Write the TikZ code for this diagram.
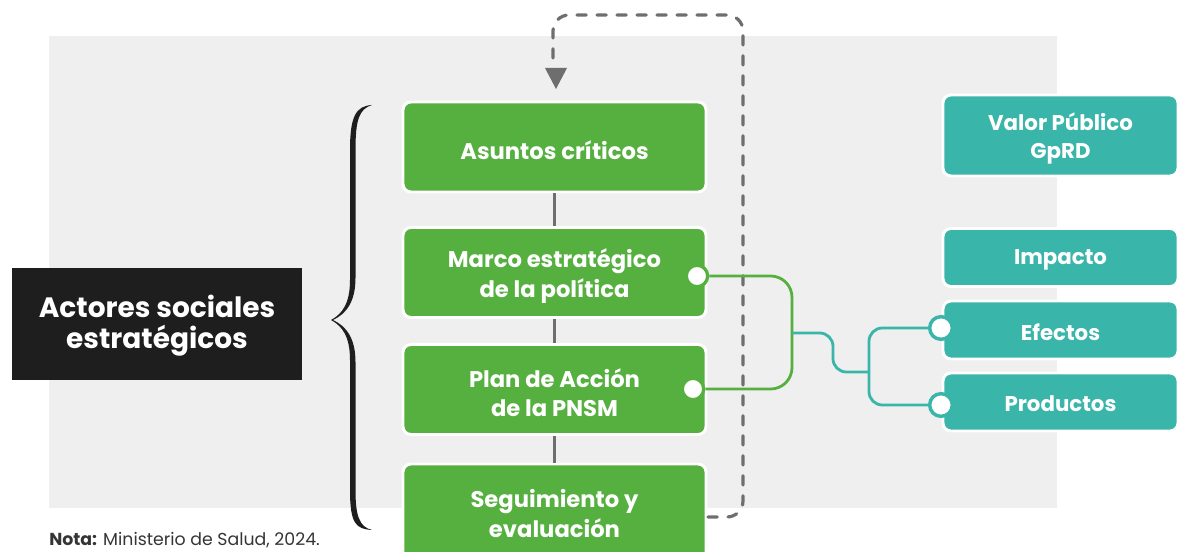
\documentclass[tikz,border=0pt]{standalone}
\usepackage{fontspec}
\setmainfont{Poppins}
\usetikzlibrary{arrows.meta}
\definecolor{bggray}{HTML}{EFEFEF}
\definecolor{grn}{HTML}{55B03F}
\definecolor{teal2}{HTML}{3AB5A9}
\definecolor{dgray}{HTML}{6E6E6E}
\definecolor{blk}{HTML}{1E1E1E}
\tikzset{
  greenbox/.style={draw=white, line width=2.2pt, fill=grn, rounded corners=6pt, minimum width=303*0.75pt, minimum height=90*0.75pt, inner sep=0pt},
  gtext/.style={text=white, font=\fontsize{17}{22}\selectfont\bfseries, align=center, inner sep=0pt},
  tealbox/.style={draw=white, line width=2.2pt, fill=teal2, rounded corners=6pt, minimum width=235*0.75pt, minimum height=58*0.75pt, inner sep=0pt},
  ttext/.style={text=white, font=\fontsize{16}{21}\selectfont\bfseries, align=center, inner sep=0pt},
  link/.style={draw=dgray, line width=2.2pt},
  dashlink/.style={draw=dgray, line width=2.4pt, line cap=round, dash pattern=on 7pt off 8pt, rounded corners=12pt},
  grnline/.style={draw=grn, line width=2.1pt, rounded corners=16pt},
  tealline/.style={draw=teal2, line width=2.1pt, rounded corners=10pt},
  gdot/.style={circle, draw=grn, fill=white, line width=2.4pt, minimum size=16pt, inner sep=0pt},
  tdot/.style={circle, draw=teal2, fill=white, line width=2.6pt, minimum size=17pt, inner sep=0pt},
}
\begin{document}
\begin{tikzpicture}[x=0.75pt, y=-0.75pt]
\useasboundingbox (0,0) rectangle (1183,552);
\clip (0,0) rectangle (1183,552);
\fill[bggray] (49,36) rectangle (1057,508);
% brace
\fill[blk] (372,105) .. controls (356,106) and (350,116) .. (350,150) -- (350,280) .. controls (350,304) and (342,314) .. (331,320) .. controls (342,326) and (350,336) .. (350,360) -- (350,490) .. controls (350,524) and (356,529) .. (372,530) .. controls (359,527) and (355.5,515) .. (355.5,490) -- (355.5,362) .. controls (355.5,338) and (346,326) .. (333,320) .. controls (346,314) and (355.5,302) .. (355.5,278) -- (355.5,150) .. controls (355.5,120) and (359,109) .. (372,105) -- cycle;
% green boxes
\node[greenbox] (a) at (554.5,147) {};
\node[greenbox] (m) at (554.5,272.5) {};
\node[greenbox] (p) at (554.5,389.5) {};
\node[greenbox, minimum height=100*0.75pt] (s) at (554.5,514) {};
\node[gtext] (at) at ([yshift=-2.3pt]a.center) {Asuntos críticos};
\node[gtext] (mt) at ([yshift=-2.6pt]m.center) {Marco estratégico\\de la política};
\node[gtext] (pt) at ([yshift=-2.6pt]p.center) {Plan de Acción\\de la PNSM};
\node[gtext] (st) at (554.5,513.5) {Seguimiento y\\evaluación};
% links between boxes
\draw[link] (a.south) -- (m.north);
\draw[link] (m.south) -- (p.north);
\draw[link] (p.south) -- (s.north);
% dashed loop
\coordinate (d1) at (708,517);
\draw[dashlink] (d1) -- (743,517) -- (743,15) -- (553,15) -- (553,62);
\fill[dgray] (545,68) -- (567,68) -- (556,89) -- cycle;
% black box
\node[fill=blk, minimum width=290*0.75pt, minimum height=112*0.75pt, inner sep=0pt] (act) at (157,324.5) {};
\node[text=white, font=\fontsize{21}{23}\selectfont\bfseries, align=center, inner sep=0pt] (actt) at ([yshift=-1pt]act.center) {Actores sociales\\estratégicos};
% teal boxes
\node[tealbox, minimum height=81*0.75pt] (v) at (1060.5,135.5) {};
\node[tealbox] (i) at (1060.5,257.5) {};
\node[tealbox] (e) at (1060.5,330) {};
\node[tealbox] (pr) at (1060.5,402) {};
\node[ttext] (vt) at ([yshift=-2pt]v.center) {Valor Público\\GpRD};
\node[ttext] (it) at ([yshift=-1.5pt]i.center) {Impacto};
\node[ttext] (et) at ([yshift=-1.5pt]e.center) {Efectos};
\node[ttext] (prt) at ([yshift=-1.5pt]pr.center) {Productos};
% green connector
\node[gdot] (g1) at (697,276) {};
\node[gdot] (g2) at (693,389) {};
\draw[grnline] (g1.east) -- (792,276) -- (792,389) -- (g2.east);
\coordinate (j) at (792,333);
\node[tdot] (t1) at (941,328) {};
\node[tdot] (t2) at (941,405) {};
\draw[tealline] (j) -- (833,333) -- (833,372) -- (869,372);
\draw[tealline] (t1.west) -- (869,328) -- (869,405) -- (t2.west);
% note
\node[anchor=west, font=\fontsize{13}{15}\selectfont, text=blk!90, inner sep=0pt] (nota) at (49,540) {\textbf{Nota:} Ministerio de Salud, 2024.};
\end{tikzpicture}
\end{document}
